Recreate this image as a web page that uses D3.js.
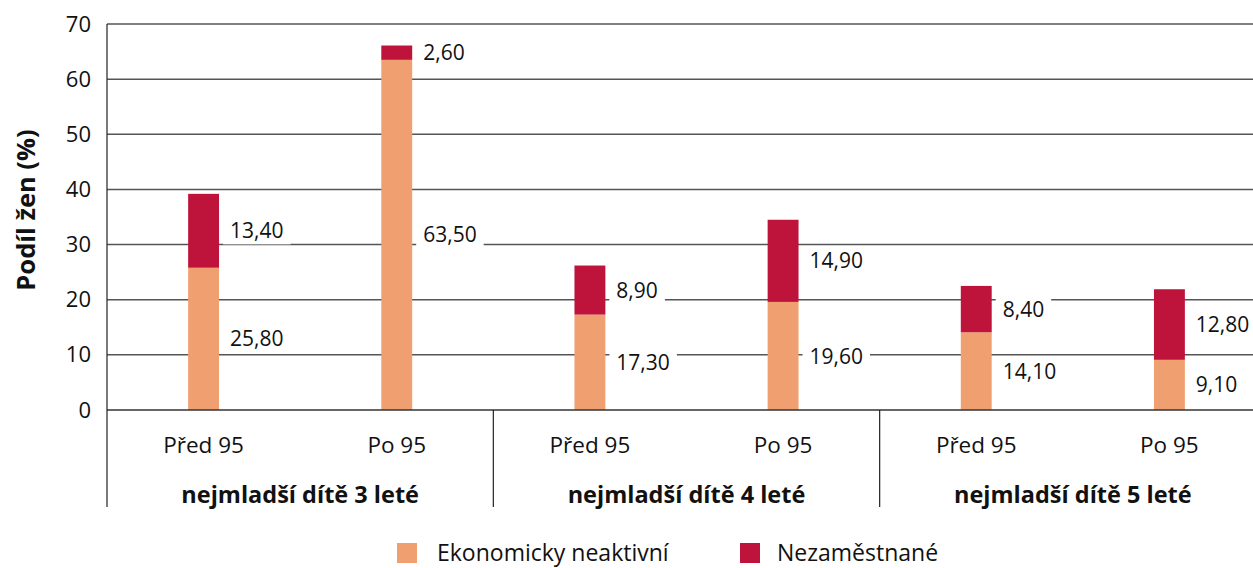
<!DOCTYPE html>
<html><head><meta charset="utf-8">
<script src="https://cdn.jsdelivr.net/npm/d3@7"></script>
<style>body{margin:0;background:#fff}svg{display:block}text{font-family:"Open Sans",sans-serif}</style>
</head><body><svg id="c" width="1253" height="568"></svg>
<script>
const categories = ["Před 95","Po 95","Před 95","Po 95","Před 95","Po 95"];
const groups = ["nejmladší dítě 3 leté","nejmladší dítě 4 leté","nejmladší dítě 5 leté"];
const seriesNames = ["Ekonomicky neaktivní","Nezaměstnané"];
const neaktivni = [25.8,63.5,17.3,19.6,14.1,9.1];
const nezamestnane = [13.4,2.6,8.9,14.9,8.4,12.8];
const yTicks = [0,10,20,30,40,50,60,70];
const colors = ["#F0A070","#BE143C"];

(function(){
const svg = d3.select("#c");
const pLeft=107, pRight=1266, pTop=24, pBottom=410;
const x = d3.scaleBand().domain(d3.range(6)).range([pLeft,pRight]).paddingInner(0.84).paddingOuter(0.42);
const y = d3.scaleLinear().domain([0,70]).range([pBottom,pTop]);

// gridlines
svg.append("g").selectAll("line").data(yTicks.filter(d=>d>0)).join("line")
  .attr("x1",pLeft).attr("x2",1253).attr("y1",d=>y(d)).attr("y2",d=>y(d))
  .attr("stroke","#555").attr("stroke-width",1.5);

const yAxis = d3.axisLeft(y).tickValues(yTicks).tickSize(0).tickPadding(16);
const ga = svg.append("g").attr("transform",`translate(${pLeft},0)`).call(yAxis);
ga.select(".domain").remove();
ga.selectAll("text").attr("font-size",22).attr("fill","#111").style("font-family","Open Sans");

// bars
const stack = d3.stack().keys([0,1]).value((d,k)=>d[k]);
const rows = neaktivni.map((v,i)=>[v,nezamestnane[i]]);
const layers = stack(rows);
layers.forEach((layer,k)=>{
  svg.append("g").selectAll("rect").data(layer).join("rect")
    .attr("x",(d,i)=>x(i)).attr("width",x.bandwidth())
    .attr("y",d=>y(d[1])).attr("height",d=>y(d[0])-y(d[1]))
    .attr("fill",colors[k]);
});

// baseline and axes lines
svg.append("line").attr("x1",pLeft).attr("x2",1253).attr("y1",pBottom).attr("y2",pBottom).attr("stroke","#333").attr("stroke-width",1.5);
svg.append("line").attr("x1",pLeft).attr("x2",pLeft).attr("y1",pTop).attr("y2",507).attr("stroke","#222").attr("stroke-width",1.2);
[1,2].forEach(g=>{
  const gx = (x(g*2-1)+x.bandwidth()+x(g*2))/2;
  svg.append("line").attr("x1",gx).attr("x2",gx).attr("y1",pBottom).attr("y2",507).attr("stroke","#222").attr("stroke-width",1.2);
});

// data labels
const fmt = v => v.toFixed(2).replace(".",",");
const lg = svg.append("g");
layers.forEach((layer)=>{
  layer.forEach((d,i)=>{
    const v = d[1]-d[0];
    const cy = y((d[0]+d[1])/2);
    const tx = x(i)+x.bandwidth()+11;
    const g = lg.append("g");
    const t = g.append("text").attr("x",tx).attr("y",cy).attr("dy","0.36em")
      .attr("font-size",21).attr("fill","#111").text(fmt(v));
    const bb = t.node().getBBox();
    g.insert("rect","text").attr("x",bb.x-7).attr("y",bb.y).attr("width",bb.width+14).attr("height",bb.height).attr("fill","#fff");
  });
});

// category labels
svg.append("g").selectAll("text").data(categories).join("text")
  .attr("x",(d,i)=>x(i)+x.bandwidth()/2).attr("y",453).attr("text-anchor","middle")
  .attr("font-size",22.5).attr("fill","#111").text(d=>d);
svg.append("g").selectAll("text").data(groups).join("text")
  .attr("x",(d,g)=>(x(g*2)+x(g*2+1)+x.bandwidth())/2).attr("y",503).attr("text-anchor","middle")
  .attr("font-size",23.5).attr("font-weight","bold").attr("fill","#111").text(d=>d);

// y title
svg.append("text").attr("transform","translate(35,210) rotate(-90)").attr("text-anchor","middle")
  .attr("font-size",25.5).attr("font-weight","bold").attr("fill","#111").text("Podíl žen (%)");

// legend
const legX=[397,740], legT=[437,777];
seriesNames.forEach((n,k)=>{
  svg.append("rect").attr("x",legX[k]).attr("y",543).attr("width",20).attr("height",20).attr("fill",colors[k]);
  svg.append("text").attr("x",legT[k]).attr("y",561).attr("font-size",23).attr("fill","#111").text(n);
});
})();
</script></body></html>
